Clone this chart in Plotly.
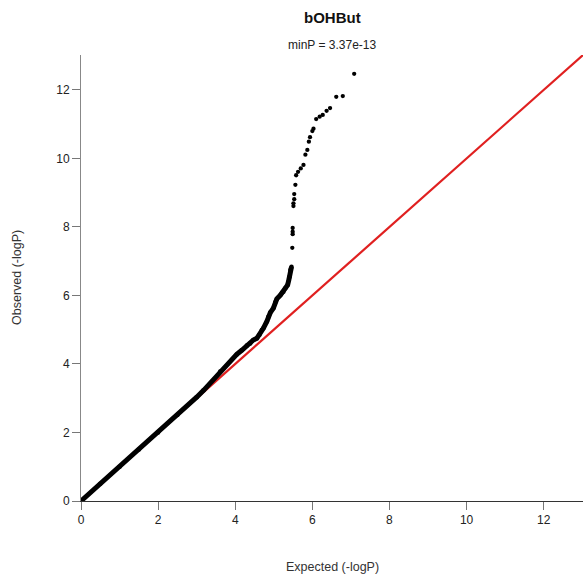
import plotly.graph_objects as go

# Dense part of the QQ curve (expected, observed -log10 P)
expected_dense = [0.0, 0.5, 1.0, 1.5, 2.0, 2.5, 3.0, 3.18, 3.61, 4.04, 4.17, 4.30, 4.39, 4.47,
                  4.56, 4.63, 4.69, 4.73, 4.82, 4.86, 4.91, 4.99, 5.04, 5.08, 5.17, 5.21,
                  5.25, 5.30, 5.36, 5.39, 5.41, 5.43, 5.46]
observed_dense = [0.0, 0.5, 1.0, 1.5, 2.0, 2.51, 3.03, 3.23, 3.78, 4.28, 4.40, 4.54, 4.60, 4.70,
                  4.75, 4.85, 4.99, 5.04, 5.24, 5.38, 5.50, 5.63, 5.80, 5.90, 6.01, 6.08,
                  6.11, 6.21, 6.31, 6.45, 6.55, 6.74, 6.84]

# Sparse tail points
expected_tail = [5.48, 5.49, 5.49, 5.49, 5.51, 5.51, 5.53, 5.53, 5.56, 5.58, 5.63, 5.70,
                 5.77, 5.82, 5.87, 5.91, 5.94, 6.00, 6.03, 6.10, 6.19, 6.27, 6.37, 6.46,
                 6.62, 6.79, 7.085]
observed_tail = [7.39, 7.79, 7.86, 7.97, 8.61, 8.69, 8.81, 8.96, 9.23, 9.51, 9.61, 9.71,
                 9.81, 10.11, 10.25, 10.49, 10.62, 10.80, 10.87, 11.15, 11.22, 11.27, 11.39,
                 11.47, 11.80, 11.82, 12.47]

axis_max = 13.02
diag = [0, axis_max]
tick_vals = [0, 2, 4, 6, 8, 10, 12]
title_text = "bOHBut"
subtitle_text = "minP = 3.37e-13"
font_family = "Liberation Sans, Arial, Helvetica, sans-serif"

fig = go.Figure()
fig.add_trace(go.Scatter(x=diag, y=diag, mode="lines",
                         line=dict(color="#e02020", width=2.2), hoverinfo="skip"))
fig.add_trace(go.Scatter(x=expected_dense, y=observed_dense, mode="lines+markers",
                         line=dict(color="black", width=5),
                         marker=dict(color="black", size=4.5)))
fig.add_trace(go.Scatter(x=expected_tail, y=observed_tail, mode="markers",
                         marker=dict(color="black", size=4.3)))

axis_common = dict(range=[0, axis_max], tickvals=tick_vals, ticks="outside", ticklen=8,
                   tickcolor="#777", showgrid=False, zeroline=False, showline=True,
                   tickfont=dict(size=12, color="#222", family=font_family))
fig.update_xaxes(**axis_common, linecolor="#333", linewidth=1)
fig.update_yaxes(**axis_common, linecolor="#888", linewidth=1)

fig.update_layout(
    width=583, height=583,
    margin=dict(l=81, r=0, t=55, b=82),
    paper_bgcolor="white", plot_bgcolor="white",
    showlegend=False,
    font=dict(family=font_family, color="#222"),
    annotations=[
        dict(text="<b>" + title_text + "</b>", xref="paper", yref="paper", x=0.5, y=1.085,
             showarrow=False, font=dict(size=15, color="#111"), xanchor="center", yanchor="middle"),
        dict(text=subtitle_text, xref="paper", yref="paper", x=0.5, y=1.0224,
             showarrow=False, font=dict(size=12, color="#222"), xanchor="center", yanchor="middle"),
        dict(text="Expected (-logP)", xref="paper", yref="paper", x=0.5, y=-0.148,
             showarrow=False, font=dict(size=12.5, color="#333"), xanchor="center", yanchor="middle"),
        dict(text="Observed (-logP)", xref="paper", yref="paper", x=0, y=0.5, xshift=-64,
             textangle=-90, showarrow=False, font=dict(size=12.5, color="#333"),
             xanchor="center", yanchor="middle"),
    ],
)

fig.write_html("out.html", config={"displayModeBar": False},
               post_script="document.body.style.margin='0';document.body.style.padding='0';")
